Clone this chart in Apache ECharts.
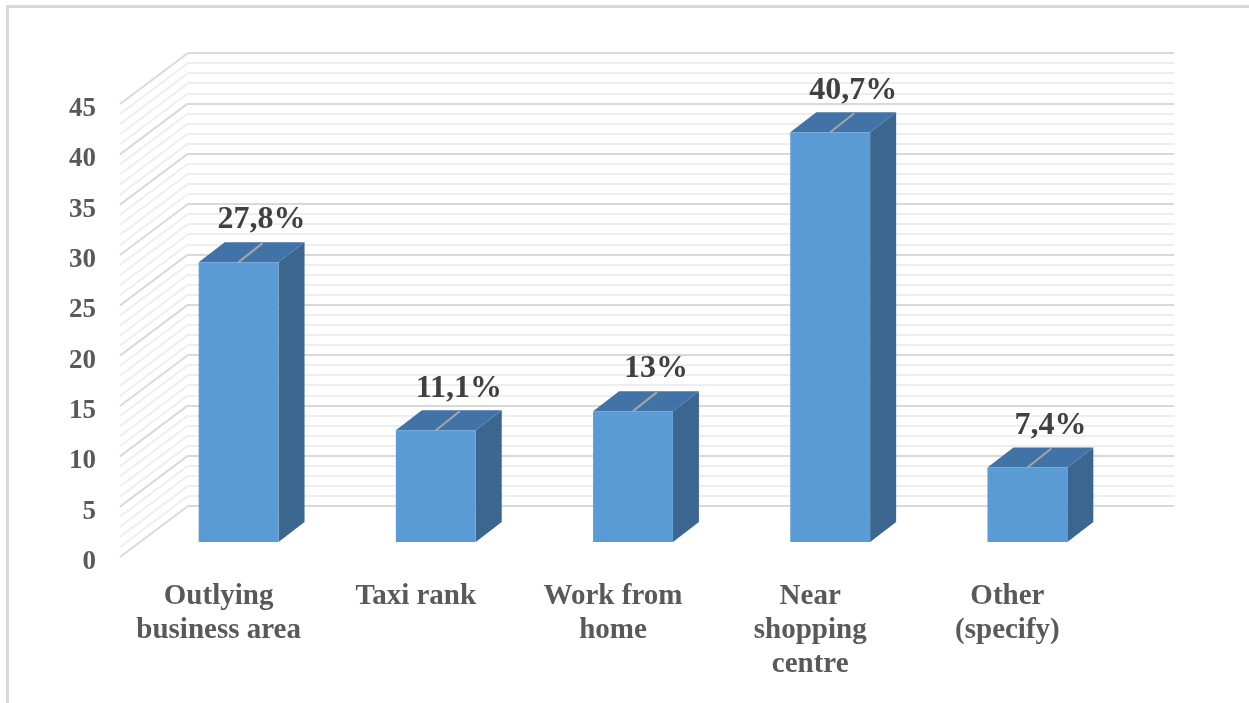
<!DOCTYPE html>
<html>
<head>
<meta charset="utf-8">
<script src="https://cdn.jsdelivr.net/npm/echarts@6/dist/echarts.min.js"></script>
<style>
  html, body { margin: 0; padding: 0; background: #ffffff; }
  #frame {
    position: absolute; left: 6px; top: 5px; width: 1243px; height: 698px;
    border-top: 3px solid #d9d9d9; border-left: 3px solid #d9d9d9; box-sizing: border-box;
  }
  #chart { position: absolute; left: 0; top: 0; width: 1249px; height: 703px; }
</style>
</head>
<body>
<div id="frame"></div>
<div id="chart"></div>
<script>
// Where informal traders operate (percent of respondents)
const categories = ['Outlying\nbusiness area', 'Taxi rank', 'Work from\nhome', 'Near\nshopping\ncentre', 'Other\n(specify)'];
const shares = [27.8, 11.1, 13, 40.7, 7.4];

// Value axis ticks
const yMin = 0;
const yMax = 45;
const yStep = 5;
const yMinorSplits = 5;

// Oblique 3D projection offsets (pixels) measured from the front plane
const WALL_DEPTH = [68, -51];   // back wall
const BAR_FRONT = [20, -15];    // front face of each column
const BAR_DEPTH = [26, -20];    // column thickness

const SERIF = '"Liberation Serif", "Times New Roman", serif';
const FRONT = '#5b9bd5';
const TOP = '#4273a6';
const SIDE = '#3a6690';

const fmtPct = v => String(v).replace('.', ',') + '%';

// Diagonal grid lines on the left side wall
function renderSideWall(params, api) {
  const left = params.coordSys.x;
  const minorStep = yStep / yMinorSplits;
  const children = [];
  for (let i = 0; i <= (yMax - yMin) / minorStep; i++) {
    const v = yMin + i * minorStep;
    const y = api.coord([0, v])[1];
    const major = i % yMinorSplits === 0;
    children.push({
      type: 'line',
      shape: { x1: left, y1: y, x2: left + WALL_DEPTH[0], y2: y + WALL_DEPTH[1] },
      style: { stroke: major ? '#d9d9d9' : '#eeeeee', lineWidth: 2 },
      z2: major ? 2 : 1
    });
  }
  return { type: 'group', children };
}

// 3D column with front, top and side faces plus its value label
function renderBar(params, api) {
  const cat = api.value(0);
  const v = api.value(1);
  const base = api.coord([cat, 0]);
  const top = api.coord([cat, v]);
  const band = api.size([1, 0])[0];
  const w = band * 0.405;
  const x0 = base[0] - w / 2 + BAR_FRONT[0];
  const x1 = x0 + w;
  const yb = base[1] + BAR_FRONT[1];
  const yt = top[1] + BAR_FRONT[1];
  const dx = BAR_DEPTH[0], dy = BAR_DEPTH[1];
  const cx = (x0 + x1) / 2;
  return {
    type: 'group',
    children: [
      { type: 'polygon', shape: { points: [[x1, yt], [x1 + dx, yt + dy], [x1 + dx, yb + dy], [x1, yb]] },
        style: { fill: SIDE } },
      { type: 'polygon', shape: { points: [[x0, yt], [x0 + dx, yt + dy], [x1 + dx, yt + dy], [x1, yt]] },
        style: { fill: TOP } },
      { type: 'rect', shape: { x: x0, y: yt, width: w, height: yb - yt },
        style: { fill: FRONT } },
      { type: 'line', shape: { x1: cx, y1: yt, x2: cx + 24, y2: yt - 19 },
        style: { stroke: '#a6a6a6', lineWidth: 2 } },
      { type: 'text', x: cx + 23, y: yt - 42,
        style: { text: fmtPct(shares[params.dataIndex]), fill: '#404040', fontSize: 32,
                 fontWeight: 'bold', fontFamily: SERIF, align: 'center', verticalAlign: 'middle' } }
    ]
  };
}

const chart = echarts.init(document.getElementById('chart'), null, { renderer: 'canvas' });
chart.setOption({
  animation: false,
  backgroundColor: 'transparent',
  grid: [
    // front plane: category labels and columns
    { left: 120, top: 104, width: 986, height: 453 },
    // back wall
    { left: 188, top: 53, width: 986, height: 453 },
    // value labels, set a little lower so the digits centre on the front-plane ticks
    { left: 120, top: 109, width: 986, height: 453 }
  ],
  xAxis: [
    {
      gridIndex: 0, type: 'category', data: categories,
      axisLine: { show: false }, axisTick: { show: false }, splitLine: { show: false },
      axisLabel: { interval: 0, margin: 23, fontSize: 29, lineHeight: 34, fontWeight: 'bold',
                   fontFamily: SERIF, color: '#595959' }
    },
    { gridIndex: 1, type: 'category', data: categories, show: false },
    { gridIndex: 2, type: 'category', data: categories, show: false }
  ],
  yAxis: [
    { gridIndex: 0, type: 'value', min: yMin, max: yMax, interval: yStep, show: false },
    {
      gridIndex: 1, type: 'value', min: yMin, max: yMax, interval: yStep,
      axisLine: { show: false }, axisTick: { show: false }, axisLabel: { show: false },
      splitLine: { show: true, lineStyle: { color: '#d9d9d9', width: 2 } },
      minorTick: { show: false, splitNumber: yMinorSplits },
      minorSplitLine: { show: true, lineStyle: { color: '#eeeeee', width: 2 } }
    },
    {
      gridIndex: 2, type: 'value', min: yMin, max: yMax, interval: yStep,
      axisLine: { show: false }, axisTick: { show: false }, splitLine: { show: false },
      axisLabel: { margin: 24, fontSize: 27, fontWeight: 'bold', fontFamily: SERIF, color: '#595959' }
    }
  ],
  series: [
    {
      type: 'custom', name: 'side wall', xAxisIndex: 0, yAxisIndex: 0,
      data: [[0, 0]], renderItem: renderSideWall, silent: true, z: 1
    },
    {
      type: 'custom', name: 'share', xAxisIndex: 0, yAxisIndex: 0,
      data: shares.map((v, i) => [i, v]), renderItem: renderBar, z: 3,
      encode: { x: 0, y: 1 }
    }
  ]
});
</script>
</body>
</html>
